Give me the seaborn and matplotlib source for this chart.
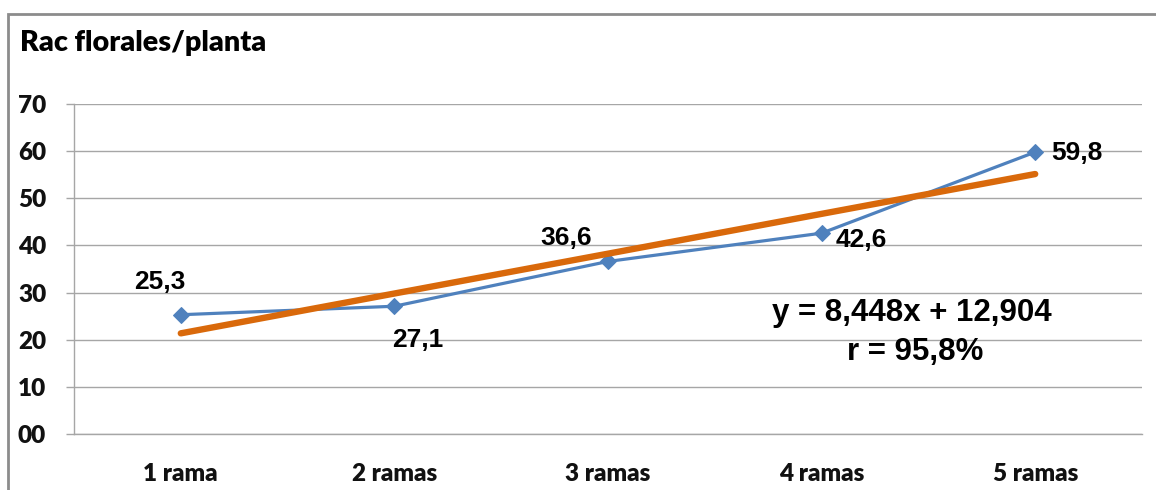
import matplotlib
matplotlib.use("Agg")
import matplotlib.pyplot as plt
from matplotlib.patches import Rectangle
from matplotlib.ticker import FixedLocator
import seaborn as sns
import pandas as pd
import numpy as np

# Data: floral racemes per plant by number of branches
categories = ["1 rama", "2 ramas", "3 ramas", "4 ramas", "5 ramas"]
racemes = [25.3, 27.1, 36.6, 42.6, 59.8]
value_labels = ["25,3", "27,1", "36,6", "42,6", "59,8"]
trend_slope = 8.448
trend_intercept = 12.904
equation_text = "y = 8,448x + 12,904"
r_text = "r = 95,8%"
y_ticks = [0, 10, 20, 30, 40, 50, 60, 70]
y_tick_labels = ["00", "10", "20", "30", "40", "50", "60", "70"]
title = "Rac florales/planta"

positions = np.arange(1, len(categories) + 1)
df = pd.DataFrame({"pos": positions, "racemes": racemes})
trend_df = pd.DataFrame({"pos": positions,
                         "trend": trend_intercept + trend_slope * positions})

sns.set_theme(style="white")
plt.rcParams["font.family"] = ["Lato", "DejaVu Sans"]

BLUE = "#4F81BD"
ORANGE = "#D9690B"
GRID = "#A6A6A6"

fig = plt.figure(figsize=(11.56, 4.9), dpi=100)
ax = fig.add_axes([74 / 1156, 1 - 434 / 490, (1142 - 74) / 1156, (434 - 104) / 490])

sns.lineplot(data=df, x="pos", y="racemes", ax=ax, color=BLUE, linewidth=2.3,
             marker="D", markersize=8.5, markeredgecolor=BLUE, zorder=3)
sns.lineplot(data=trend_df, x="pos", y="trend", ax=ax, color=ORANGE,
             linewidth=4.6, solid_capstyle="round", zorder=4)

ax.set_xlim(0.5, len(categories) + 0.5)
ax.set_ylim(0, 70)
ax.set_xlabel("")
ax.set_ylabel("")

ax.set_yticks(y_ticks)
ax.set_yticklabels(y_tick_labels, fontsize=17.5, fontweight="heavy", color="#111111")
ax.set_xticks(positions)
ax.set_xticklabels(categories, fontsize=17.5, fontweight="heavy", color="#111111")
ax.xaxis.set_minor_locator(FixedLocator(np.arange(0.5, len(categories) + 1, 1.0)))
ax.tick_params(axis="x", which="major", length=0, pad=21)
ax.tick_params(axis="x", which="minor", length=6, width=1, color=GRID, direction="out")
ax.tick_params(axis="y", which="major", length=6, width=1, color=GRID, pad=14,
               direction="out", left=True)

ax.grid(axis="y", color=GRID, linewidth=1)
ax.grid(axis="x", visible=False)
for side in ["top", "right"]:
    ax.spines[side].set_visible(False)
for side in ["left", "bottom"]:
    ax.spines[side].set_color(GRID)
    ax.spines[side].set_linewidth(1)

# Data labels, offset from each point in pixels
offsets = [(-21, 33), (23, -34), (-42, 23), (40, -7), (42, -1)]
for x, y, lab, off in zip(positions, racemes, value_labels, offsets):
    ax.annotate(lab, (x, y), xytext=off, textcoords="offset pixels",
                ha="center", va="center", fontsize=19, fontweight="bold",
                family="Liberation Sans", color="black", zorder=5)

ax.text(912 / 1156, 1 - 313 / 490, equation_text, transform=fig.transFigure,
        ha="center", va="center", fontsize=22.5, fontweight="bold",
        family="Liberation Sans", color="black")
ax.text(915 / 1156, 1 - 352 / 490, r_text, transform=fig.transFigure,
        ha="center", va="center", fontsize=22.5, fontweight="bold",
        family="Liberation Sans", color="black")

fig.text(20 / 1156, 1 - 43 / 490, title, ha="left", va="center",
         fontsize=20.7, fontweight="heavy", color="black")

# Chart frame
fig.add_artist(Rectangle((8 / 1156, -0.2), 1.5, 0.2 + 1 - 14 / 490,
                         transform=fig.transFigure, fill=False,
                         edgecolor="#8C8C8C", linewidth=2, clip_on=False))

fig.savefig("out.png", dpi=100, facecolor="white")
